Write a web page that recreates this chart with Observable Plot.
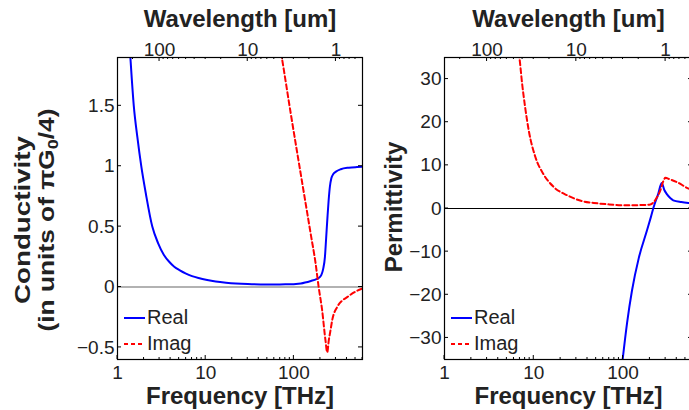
<!DOCTYPE html>
<html><head><meta charset="utf-8">
<script src="https://cdn.jsdelivr.net/npm/d3@7"></script>
<script src="https://cdn.jsdelivr.net/npm/@observablehq/plot@0.6"></script>
<style>
html,body{margin:0;padding:0;background:#fff;}
#wrap{position:relative;width:689px;height:410px;overflow:hidden;background:#fff;}
#wrap svg{position:absolute;top:0;}
</style></head><body><div id="wrap"></div>
<script>
// ---- data ----
const seriesNames = ["Real", "Imag"];
// Conductivity (units of pi*G0/4)
const condRealFreq = [1.33, 1.40, 1.53, 1.68, 1.86, 2.1, 2.48, 2.9, 3.36, 3.9, 4.4, 5.1, 5.9, 7.0, 8.3, 10.4, 13, 17, 22, 30, 50, 80, 120, 156, 180, 195, 205, 215, 225, 232, 240, 248, 256, 266, 280, 300, 340, 420, 520, 600];
const condRealVal  = [2.16, 1.9, 1.5, 1.24, 1.0, 0.77, 0.5, 0.36, 0.265, 0.205, 0.168, 0.138, 0.113, 0.09, 0.074, 0.058, 0.046, 0.036, 0.029, 0.024, 0.021, 0.022, 0.03, 0.05, 0.065, 0.08, 0.1, 0.15, 0.25, 0.4, 0.57, 0.72, 0.83, 0.9, 0.935, 0.955, 0.975, 0.988, 0.993, 0.995];
const condImagFreq = [62, 73, 92, 120, 156, 176, 191, 209, 228, 239, 249, 260, 272, 310, 350, 402, 480, 600];
const condImagVal  = [2.2, 1.9, 1.44, 0.93, 0.43, 0.2, 0, -0.19, -0.44, -0.54, -0.44, -0.36, -0.275, -0.165, -0.115, -0.084, -0.045, -0.012];
// Permittivity
const permRealFreq = [93, 99, 111, 126, 150, 186, 205, 220, 248, 271, 290, 308, 340, 365, 450, 540, 620];
const permRealVal  = [-40, -35, -26.5, -19, -11.5, -5, -2, 0.3, 3.4, 5.9, 4.3, 3.4, 2.4, 1.9, 1.5, 1.3, 1.2];
const permImagFreq = [6.5, 6.9, 7.4, 8.0, 8.8, 10.4, 12.8, 16.7, 24, 35, 47, 70, 111, 160, 202, 220, 240, 262, 282, 298, 330, 403, 544, 620];
const permImagVal  = [38, 35, 29, 23.5, 18, 12, 8, 5, 3.0, 1.7, 1.3, 0.95, 0.75, 0.8, 0.95, 1.45, 2.6, 4.2, 6.3, 7.1, 6.8, 6.1, 4.6, 4.2];
// ticks
const freqDomain = [1, 600];
const freqTicks = [1, 10, 100];
const freqMinor = [2,3,4,5,6,7,8,9,20,30,40,50,60,70,80,90,200,300,400,500,600];
const wlTicks = [100, 10, 1];
const wlMinor = [200,90,80,70,60,50,40,30,20,9,8,7,6,5,4,3,2,0.9,0.8,0.7,0.6];
const condTicks = [-0.5, 0, 0.5, 1, 1.5];
const permTicks = [-30, -20, -10, 0, 10, 20, 30];
const C_UM_THZ = 299.79; // wavelength[um] = c / f[THz]

const zip = (fs, vs) => fs.map((f, i) => ({f, v: vs[i]}));
const FONT = "'Liberation Sans', Arial, Helvetica, sans-serif";
const TXT = "#222";
const fmt = d => String(d).replace("-", "\u2212");

function frameTicks(yTicks) {
  return (index, scales, values, dims) => {
    const {x, y} = scales;
    const t = dims.marginTop, b = dims.height - dims.marginBottom;
    const l = dims.marginLeft, r = dims.width - dims.marginRight;
    const g = d3.create("svg:g").attr("stroke", "#000").attr("stroke-width", 1);
    const vt = (px, len) => {
      g.append("line").attr("x1", px).attr("x2", px).attr("y1", b).attr("y2", b - len);
    };
    freqTicks.forEach(v => vt(x(v), 4));
    freqMinor.forEach(v => vt(x(v), 2));
    wlTicks.forEach(w => { const px = x(C_UM_THZ / w); g.append("line").attr("x1", px).attr("x2", px).attr("y1", t).attr("y2", t + 4); });
    wlMinor.forEach(w => { const px = x(C_UM_THZ / w); g.append("line").attr("x1", px).attr("x2", px).attr("y1", t).attr("y2", t + 2); });
    yTicks.forEach(v => {
      const py = y(v);
      g.append("line").attr("x1", l).attr("x2", l + 4).attr("y1", py).attr("y2", py);
      g.append("line").attr("x1", r).attr("x2", r - 4).attr("y1", py).attr("y2", py);
    });
    return g.node();
  };
}

function legend() {
  return (index, scales, values, dims) => {
    const l = dims.marginLeft, b = dims.height - dims.marginBottom;
    const g = d3.create("svg:g").attr("font-family", FONT).attr("font-size", 20).attr("fill", TXT).attr("text-anchor", "start");
    const rows = [
      {name: seriesNames[0], color: "#0000ff", dash: null, y: b - 41},
      {name: seriesNames[1], color: "#ff0000", dash: "4,3", y: b - 15}
    ];
    rows.forEach(r => {
      g.append("line").attr("x1", l + 7).attr("x2", l + 28).attr("y1", r.y).attr("y2", r.y)
        .attr("stroke", r.color).attr("stroke-width", 2).attr("stroke-dasharray", r.dash);
      g.append("text").attr("x", l + 30).attr("y", r.y - 1).attr("dy", "0.36em").text(r.name);
    });
    return g.node();
  };
}

function yTitle(lines, cy) {
  return () => {
    const g = d3.create("svg:g").attr("font-family", FONT).attr("font-weight", "bold").attr("fill", TXT);
    lines.forEach(L => {
      const t = g.append("text").attr("transform", `translate(${L.x},${cy}) rotate(-90)`)
        .attr("text-anchor", "middle").attr("dominant-baseline", "central").attr("font-size", L.size);
      if (L.len) t.attr("textLength", L.len).attr("lengthAdjust", "spacingAndGlyphs");
      L.parts.forEach(p => {
        const s = t.append("tspan").text(p.text);
        if (p.sub) s.attr("font-size", 15).attr("dy", 6);
        if (p.after) s.attr("dy", -6);
      });
    });
    return g.node();
  };
}

function panel({width, marginLeft, marginRight, yDomain, yTicks, zeroColor, real, imag, title}) {
  return Plot.plot({
    width, height: 410,
    marginLeft, marginRight, marginTop: 57, marginBottom: 51,
    x: {type: "log", domain: freqDomain, axis: null},
    y: {domain: yDomain, axis: null},
    style: {fontFamily: FONT, background: "transparent", color: TXT, overflow: "visible"},
    marks: [
      Plot.ruleY([0], {stroke: zeroColor, strokeWidth: 1.2}),
      Plot.line(real, {x: "f", y: "v", stroke: "#0000ff", strokeWidth: 2, curve: "monotone-x", clip: true}),
      Plot.line(imag, {x: "f", y: "v", stroke: "#ff0000", strokeWidth: 2, strokeDasharray: "5,3", curve: "monotone-x", clip: true}),
      Plot.frame({stroke: "#000", strokeWidth: 1.2}),
      frameTicks(yTicks),
      Plot.text(freqTicks, {x: d => d, text: d => String(d), frameAnchor: "bottom", lineAnchor: "middle", dy: 13, fontSize: 19, fill: TXT}),
      Plot.text(wlTicks, {x: d => C_UM_THZ / d, text: d => String(d), frameAnchor: "top", lineAnchor: "middle", dy: -8, fontSize: 19, fill: TXT}),
      Plot.text(yTicks, {y: d => d, text: fmt, frameAnchor: "left", lineAnchor: "middle", dx: -3, textAnchor: "end", fontSize: 19, fill: TXT}),
      Plot.text(["Frequency [THz]"], {text: d => d, frameAnchor: "bottom", lineAnchor: "middle", dy: 37, fontSize: 24, fontWeight: "bold", fill: TXT}),
      Plot.text(["Wavelength [um]"], {text: d => d, frameAnchor: "top", lineAnchor: "middle", dy: -38, fontSize: 24, fontWeight: "bold", fill: TXT}),
      legend(),
      title
    ]
  });
}

const left = panel({
  width: 370, marginLeft: 117, marginRight: 8,
  yDomain: [-0.6, 1.9], yTicks: condTicks, zeroColor: "#666",
  real: zip(condRealFreq, condRealVal), imag: zip(condImagFreq, condImagVal),
  title: yTitle([
    {x: 21.5, size: 22, len: 168, parts: [{text: "Conductivity"}]},
    {x: 46, size: 22, len: 223, parts: [{text: "(in units of \u03c0G"}, {text: "0", sub: true}, {text: "/4)", after: true}]}
  ], 220)
});
left.style.left = "0px";

const right = panel({
  width: 330, marginLeft: 74, marginRight: 8,
  yDomain: [-35, 35], yTicks: permTicks, zeroColor: "#000",
  real: zip(permRealFreq, permRealVal), imag: zip(permImagFreq, permImagVal),
  title: yTitle([{x: 22.5, size: 24, parts: [{text: "Permittivity"}]}], 207)
});
right.style.left = "370px";

const wrap = document.getElementById("wrap");
wrap.appendChild(left);
wrap.appendChild(right);
</script></body></html>
